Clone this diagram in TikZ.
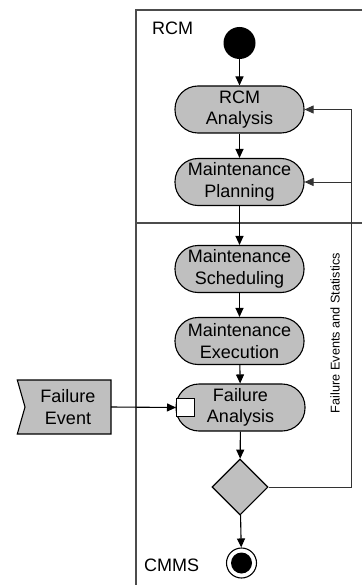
\documentclass[tikz,border=0pt]{standalone}
\usepackage{fontspec}
\setmainfont{Liberation Sans}
\usetikzlibrary{arrows.meta,shapes.geometric}
\begin{document}
\begin{tikzpicture}[x=1pt,y=-1pt,
  act/.style={draw=black, fill=black!25, line width=1.1pt, rounded corners=23pt,
    minimum width=129pt, minimum height=47pt, align=center, inner sep=0pt,
    font=\fontsize{18}{21.6}\selectfont},
  frame/.style={draw=black!70, line width=1.1pt},
  flow/.style={line width=1.1pt, -{Triangle[length=9pt,width=8pt]}},
  fb/.style={line width=0.8pt, draw=black!80, -{Triangle[length=9pt,width=8pt]}},
  lbl/.style={font=\fontsize{18}{21.6}\selectfont, inner sep=0pt}]
\useasboundingbox (0,0) rectangle (362,585);
% frame
\draw[frame] (362,10) -- (136,10) -- (136,585);
\draw[frame] (136,223) -- (362,223);
\node[lbl, anchor=west] (lrcm) at (152,28.5) {RCM};
\node[lbl, anchor=west] (lcmms) at (144,565.5) {CMMS};
% nodes
\node[circle, fill=black, minimum size=32pt, inner sep=0pt] (start) at (239.5,43) {};
\node[act] (rcma) at (239.5,109.5) {RCM\\Analysis};
\node[act] (plan) at (239.5,182) {Maintenance\\Planning};
\node[act] (sched) at (239.5,269) {Maintenance\\Scheduling};
\node[act] (exec) at (239.5,341) {Maintenance\\Execution};
\node[act] (fa) at (240.5,407.5) {Failure\\Analysis};
\node[draw=black, fill=white, line width=1.1pt, minimum width=18pt, minimum height=18pt, inner sep=0pt, anchor=west] (pin) at (176,407.5) {};
\node[diamond, draw=black, fill=black!25, line width=1.1pt, minimum width=56pt, minimum height=56pt, inner sep=0pt] (dec) at (240,487) {};
\node[circle, draw=black, fill=white, line width=1.1pt, minimum size=30pt, inner sep=0pt] (end) at (241.5,563) {};
\fill[black] (end.center) circle (10.5pt);
% failure event
\draw[fill=black!25, line width=1.1pt] (17.3,380) -- (111,380) -- (111,434) -- (17.3,434) -- (25,407) -- cycle;
\node[align=center, inner sep=0pt, minimum width=86pt, minimum height=54pt, font=\fontsize{18}{21.6}\selectfont] (fe) at (68,407) {Failure\\Event};
% flows
\draw[flow] (start) -- (rcma);
\draw[flow] (rcma) -- (plan);
\draw[flow] (plan) -- (sched);
\draw[flow] (sched) -- (exec);
\draw[flow] (exec) -- (fa);
\draw[flow] (fa) -- (dec);
\draw[flow] (dec) -- (end);
\draw[flow] (fe.east) -- (pin.west);
% feedback
\coordinate (c1) at (351,487);
\coordinate (c2) at (351,109.5);
\coordinate (c3) at (351,182);
\draw[line width=0.8pt, draw=black!80] (dec.east) -- (c1) -- (c2);
\draw[fb] (c2) -- (rcma.east);
\draw[fb] (c3) -- (plan.east);
\node[rotate=90, font=\fontsize{12.7}{15}\selectfont, inner sep=0pt] (fes) at (335,333) {Failure Events and Statistics};
\end{tikzpicture}
\end{document}
